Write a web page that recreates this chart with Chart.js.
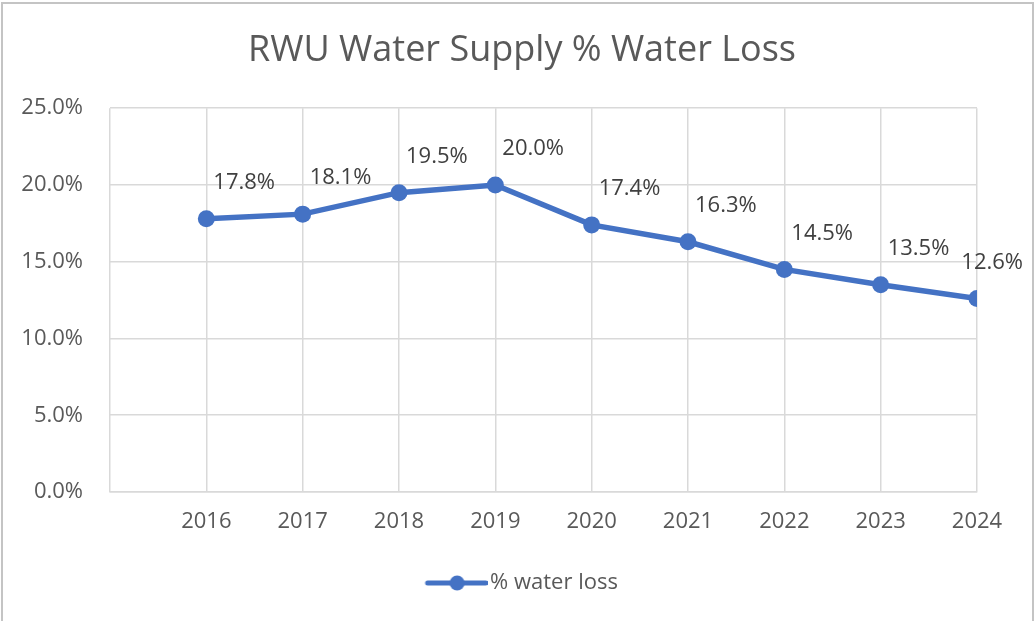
<!DOCTYPE html>
<html>
<head>
<meta charset="utf-8">
<script src="https://cdn.jsdelivr.net/npm/chart.js@4"></script>
<style>
    body { margin: 0; background: #ffffff; }
    #wrap { position: relative; width: 1034px; height: 621px; }
    #frame { position: absolute; left: 1px; top: 2px; width: 1029px; height: 640px; border: 2px solid #c4c4c4; pointer-events: none; }
</style>
</head>
<body>
<div id="wrap">
    <canvas id="lossChart" width="1034" height="621"></canvas>
    <div id="frame"></div>
</div>
<script>
const years = [2016, 2017, 2018, 2019, 2020, 2021, 2022, 2023, 2024];
const waterLoss = [17.8, 18.1, 19.5, 20.0, 17.4, 16.3, 14.5, 13.5, 12.6];
const yTicks = [0, 5, 10, 15, 20, 25];

const lineColor = '#4472C4';
const textColor = '#595959';
const fontFamily = "'Open Sans', 'Noto Sans', sans-serif";

// legend sample: line with a dot in the middle
const legendIcon = document.createElement('canvas');
legendIcon.width = 70;
legendIcon.height = 20;
(function () {
    const c = legendIcon.getContext('2d');
    c.strokeStyle = lineColor;
    c.lineWidth = 5;
    c.lineCap = 'round';
    c.beginPath();
    c.moveTo(10, 10);
    c.lineTo(68, 10);
    c.stroke();
    c.fillStyle = lineColor;
    c.beginPath();
    c.arc(39.5, 10, 7.5, 0, Math.PI * 2);
    c.fill();
})();

// data labels to the upper right of each point
const pointLabels = {
    id: 'pointLabels',
    afterDatasetsDraw(chart) {
        const ctx = chart.ctx;
        const meta = chart.getDatasetMeta(0);
        ctx.save();
        ctx.font = "22px " + fontFamily;
        ctx.fillStyle = '#404040';
        ctx.textBaseline = 'middle';
        ctx.textAlign = 'left';
        meta.data.forEach((pt, i) => {
            const txt = waterLoss[i].toFixed(1) + '%';
            const w = ctx.measureText(txt).width;
            let x = pt.x + 7;
            if (x + w > chart.width - 11) x = chart.width - 11 - w;
            ctx.fillText(txt, x, pt.y - 36);
        });
        ctx.restore();
    }
};

new Chart(document.getElementById('lossChart'), {
    type: 'line',
    data: {
        datasets: [{
            label: '% water loss',
            data: years.map((yr, i) => ({ x: yr, y: waterLoss[i] })),
            borderColor: lineColor,
            backgroundColor: lineColor,
            borderWidth: 5.5,
            pointRadius: 8.5,
            pointBorderWidth: 0,
            pointBackgroundColor: lineColor,
            tension: 0
        }]
    },
    options: {
        responsive: false,
        animation: false,
        layout: { padding: { left: 10, right: 0, top: 0, bottom: 17 } },
        plugins: {
            title: {
                display: true,
                text: 'RWU Water Supply % Water Loss',
                color: textColor,
                font: { family: fontFamily, size: 36, weight: 'normal' },
                padding: { top: 29, bottom: 36 }
            },
            legend: {
                position: 'bottom',
                labels: {
                    color: textColor,
                    font: { family: fontFamily, size: 22 },
                    usePointStyle: true,
                    pointStyleWidth: 53,
                    padding: 10,
                    generateLabels: chart => [{
                        text: '% water loss',
                        pointStyle: legendIcon,
                        fontColor: textColor,
                        datasetIndex: 0
                    }]
                }
            },
            tooltip: { enabled: false }
        },
        scales: {
            x: {
                type: 'linear',
                min: 2015,
                max: 2024,
                afterFit: scale => { scale.height = 70; },
                ticks: {
                    stepSize: 1,
                    color: textColor,
                    font: { family: fontFamily, size: 22 },
                    padding: 17,
                    callback: v => (v === 2015 ? '' : String(v))
                },
                grid: { color: '#d9d9d9', lineWidth: 1.5, drawTicks: false },
                border: { color: '#d9d9d9', width: 1.5 }
            },
            y: {
                min: 0,
                max: 25,
                afterBuildTicks: scale => {
                    scale.ticks = yTicks.map(v => ({ value: v }));
                },
                afterFit: scale => { scale.width = 100; },
                ticks: {
                    color: textColor,
                    font: { family: fontFamily, size: 22 },
                    padding: 27,
                    callback: v => v.toFixed(1) + '%'
                },
                grid: { color: '#d9d9d9', lineWidth: 1.5, drawTicks: false },
                border: { display: false }
            },
            // empty axis that keeps room on the right, like the original
            spacer: {
                position: 'right',
                grid: { display: false },
                ticks: { display: false },
                border: { display: false },
                afterFit: scale => { scale.width = 57; }
            }
        }
    },
    plugins: [pointLabels]
});
</script>
</body>
</html>
